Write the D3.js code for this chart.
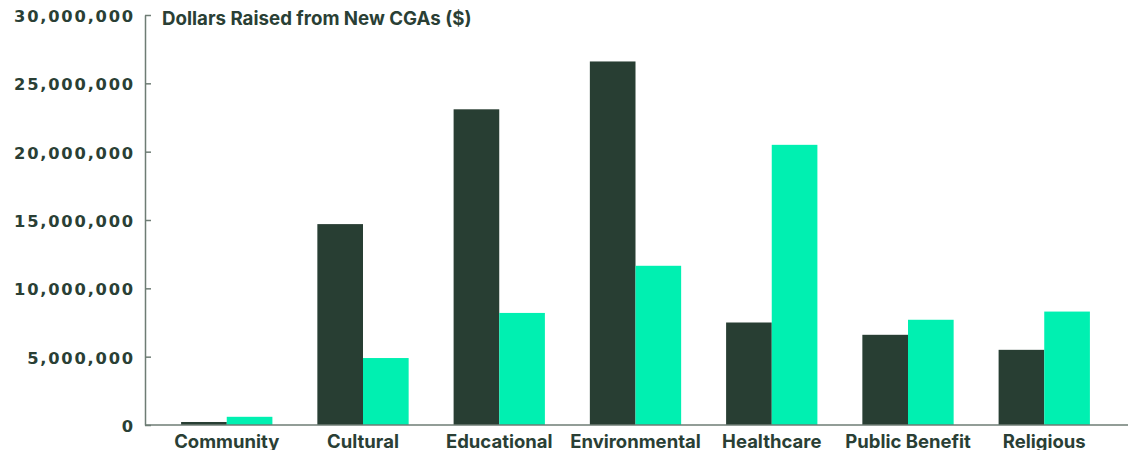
<!DOCTYPE html>
<html><head><meta charset="utf-8">
<script src="https://cdn.jsdelivr.net/npm/d3@7"></script>
<style>
body{margin:0;background:#fff;}
svg{display:block;}
</style></head>
<body><svg id="c" width="1130" height="450"></svg>
<script>
const categories = ["Community","Cultural","Educational","Environmental","Healthcare","Public Benefit","Religious"];
const seriesNames = ["Series A","Series B"];
const seriesA = [220000, 14700000, 23100000, 26600000, 7500000, 6600000, 5500000];
const seriesB = [600000, 4900000, 8200000, 11650000, 20500000, 7700000, 8300000];
const yTicks = [0, 5000000, 10000000, 15000000, 20000000, 25000000, 30000000];
const title = "Dollars Raised from New CGAs ($)";

const dark = "#283e33", teal = "#00f0b1", txt = "#2a3f35", axisCol = "#6e7c74";
const svg = d3.select("#c");
const x0 = d3.scaleBand().domain(categories).range([145, 1126]).paddingInner(0.33).paddingOuter(0.265);
const x1 = d3.scaleBand().domain(seriesNames).range([0, x0.bandwidth()]);
const y = d3.scaleLinear().domain([0, 30000000]).range([425, 15]);

const data = categories.map((c,i)=>({c, vals:[seriesA[i], seriesB[i]]}));
const g = svg.append("g");
g.selectAll("g.grp").data(data).join("g").attr("class","grp")
  .attr("transform", d=>`translate(${x0(d.c)},0)`)
  .selectAll("rect").data(d=>d.vals.map((v,j)=>({k:seriesNames[j], v})))
  .join("rect")
  .attr("x", d=>x1(d.k)).attr("width", x1.bandwidth())
  .attr("y", d=>y(d.v)).attr("height", d=>y(0)-y(d.v))
  .attr("fill", (d,i)=> i===0?dark:teal);

const yAxis = svg.append("g").attr("transform","translate(145,0)")
  .call(d3.axisLeft(y).tickValues(yTicks).tickFormat(d3.format(",")).tickSizeInner(-6).tickSizeOuter(0).tickPadding(10));
yAxis.select(".domain").attr("stroke", axisCol).attr("stroke-width",1.5);
yAxis.selectAll(".tick line").attr("stroke", axisCol).attr("stroke-width",1.5);
yAxis.selectAll(".tick text").attr("fill", txt).attr("font-family","DejaVu Sans").attr("font-weight","bold")
  .attr("font-size","16.3px").attr("letter-spacing","1.8px").attr("dy","0.4em");

const xAxis = svg.append("g").attr("transform","translate(0,425)")
  .call(d3.axisBottom(x0).tickSize(0).tickPadding(0));
xAxis.select(".domain").attr("stroke", axisCol).attr("stroke-width",1.5).attr("d","M145,0H1128");
xAxis.selectAll(".tick text").attr("fill", txt).attr("font-family","Inter, Liberation Sans, sans-serif").attr("font-weight","bold")
  .attr("font-size","18.5px").attr("letter-spacing","0px").attr("dy","0").attr("y", 23);

svg.append("text").attr("x",162).attr("y",25).text(title)
  .attr("fill", txt).attr("font-family","Inter, Liberation Sans, sans-serif").attr("font-weight","bold")
  .attr("font-size","18.7px").attr("letter-spacing","0px");
</script></body></html>
